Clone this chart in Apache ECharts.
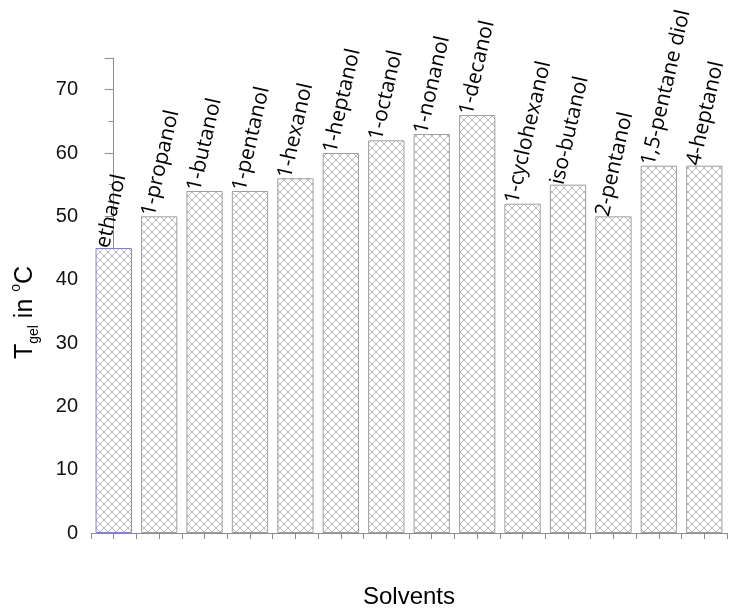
<!DOCTYPE html>
<html>
<head>
<meta charset="utf-8">
<script src="https://cdn.jsdelivr.net/npm/echarts@6/dist/echarts.min.js"></script>
<style>html,body{margin:0;padding:0;background:#fff;}#c{width:733px;height:614px;}</style>
</head>
<body>
<div id="c"></div>
<script>
const solvents = ['ethanol','1-propanol','1-butanol','1-pentanol','1-hexanol','1-heptanol','1-octanol','1-nonanol','1-decanol','1-cyclohexanol','iso-butanol','2-pentanol','1,5-pentane diol','4-heptanol'];
const tgel = [45,50,54,54,56,60,62,63,66,52,55,50,58,58];
const yTicks = [0,10,20,30,40,50,60,70];

// crosshatch pattern
const pc = document.createElement('canvas');
pc.width = 8; pc.height = 8;
const g = pc.getContext('2d');
g.fillStyle = '#fff'; g.fillRect(0,0,8,8);
g.strokeStyle = '#a6a6a6'; g.lineWidth = 0.8;
g.beginPath(); g.moveTo(0,0); g.lineTo(8,8); g.moveTo(8,0); g.lineTo(0,8); g.stroke();

const chart = echarts.init(document.getElementById('c'));
const axisColor = '#8c8c8c';
chart.setOption({
  animation: false,
  backgroundColor: '#fff',
  grid: {left: 91, right: 6, top: 58, bottom: 81},
  xAxis: [{
    type: 'category',
    data: solvents,
    name: 'Solvents',
    nameLocation: 'middle',
    nameGap: 52,
    nameTextStyle: {fontSize: 24, color: '#000', fontFamily: 'Liberation Sans'},
    axisLine: {lineStyle: {color: axisColor, width: 1}},
    axisTick: {show: false},
    axisLabel: {show: false},
    splitLine: {show: false}
  }, {
    type: 'value',
    position: 'bottom',
    min: -0.5, max: 13.5, interval: 0.5,
    axisLine: {show: false},
    axisTick: {show: true, inside: false, length: 6, lineStyle: {color: axisColor}},
    axisLabel: {show: false},
    splitLine: {show: false}
  }],
  yAxis: {
    type: 'value',
    min: 0, max: 75, interval: 10,
    name: '{a|T}{sub|gel}{a| in }{sup|o}{a|C}',
    nameLocation: 'middle',
    nameRotate: 90,
    nameGap: 50,
    nameTextStyle: {
      padding: [0, 34, 0, 0],
      rich: {
        a: {fontSize: 25, color: '#000', fontFamily: 'Liberation Sans', lineHeight: 32},
        sub: {fontSize: 14, color: '#000', fontFamily: 'Liberation Sans', lineHeight: 14, verticalAlign: 'bottom'},
        sup: {fontSize: 14, color: '#000', fontFamily: 'Liberation Sans', lineHeight: 14, verticalAlign: 'top'}
      }
    },
    axisLine: {show: true, lineStyle: {color: axisColor, width: 1}},
    axisTick: {show: true, length: 9, lineStyle: {color: axisColor}},
    minorTick: {show: true, splitNumber: 2, length: 5, lineStyle: {color: axisColor}},
    axisLabel: {fontSize: 20, color: '#111', fontFamily: 'Liberation Sans', margin: 13,
      formatter: v => yTicks.includes(v) ? String(v) : ''},
    splitLine: {show: false}
  },
  series: [{
    type: 'bar',
    xAxisIndex: 0,
    data: tgel.map((v, i) => ({
      value: v,
      itemStyle: i === 0 ? {borderColor: '#8080c8'} : {}
    })),
    barCategoryGap: '20%',
    itemStyle: {
      color: {image: pc, repeat: 'repeat'},
      borderColor: '#a0a0a0',
      borderWidth: 1
    },
    label: {
      show: true,
      position: 'top',
      distance: 0,
      offset: [-2, 0],
      rotate: 77,
      align: 'left',
      verticalAlign: 'bottom',
      formatter: p => p.name,
      fontSize: 21,
      fontFamily: 'Open Sans',
      color: '#000'
    }
  }]
});
</script>
</body>
</html>
